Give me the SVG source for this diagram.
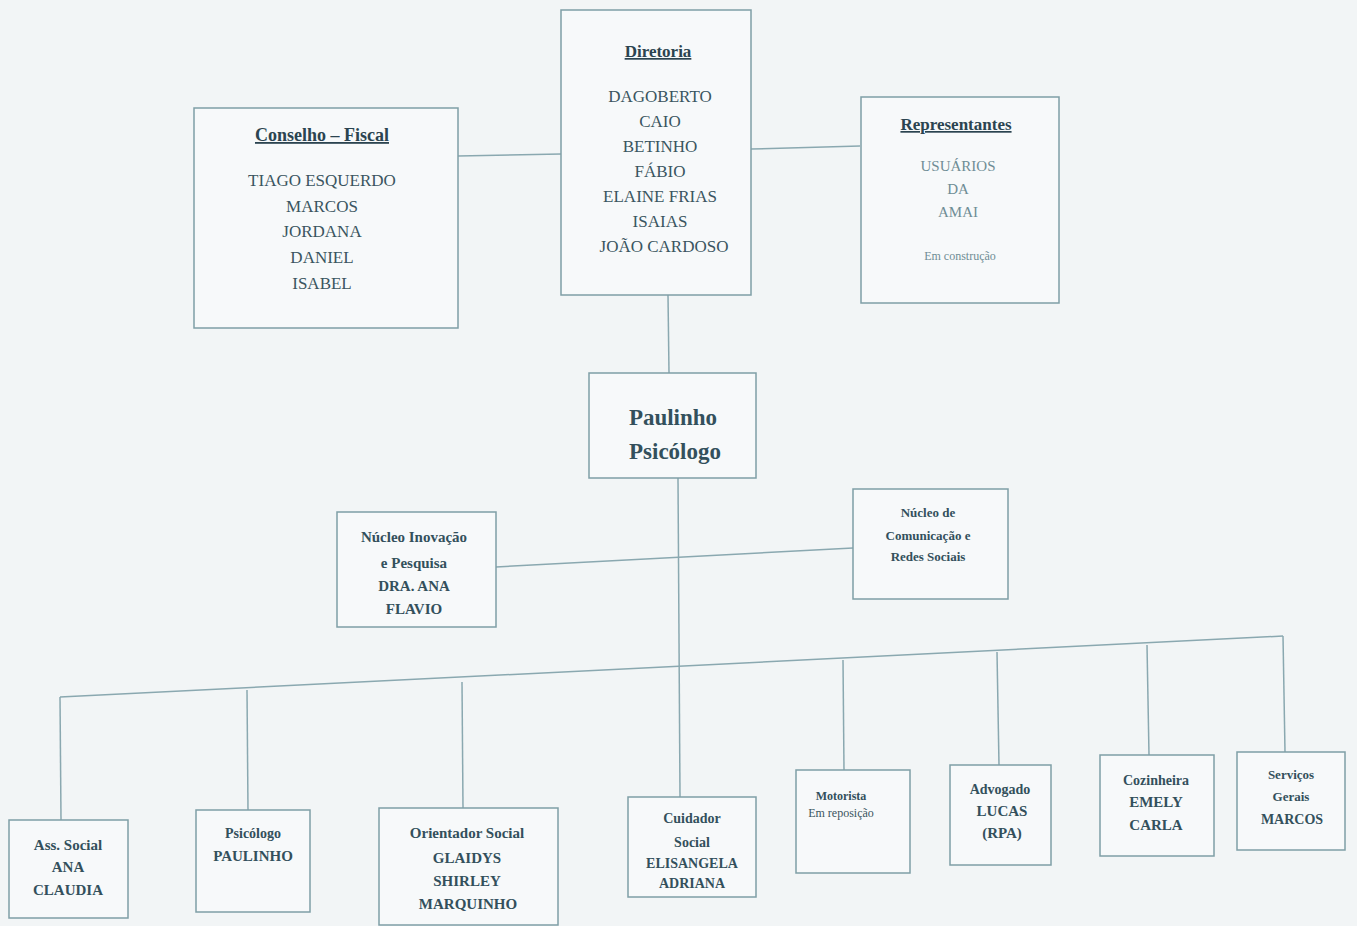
<svg xmlns="http://www.w3.org/2000/svg" width="1357" height="926" viewBox="0 0 1357 926">
<style>
.bg{fill:#f2f5f6}
.box{fill:#f7f9fa;stroke:#7f9ea6;stroke-width:1.5}
.ln{stroke:#8aa8b0;stroke-width:1.5;fill:none}
text{font-family:"Liberation Serif","DejaVu Serif",serif;text-anchor:middle;fill:#3a5560}
.h{font-weight:bold;fill:#2b4450;text-decoration:underline}
.b{font-weight:bold;fill:#33505c}
.n{font-size:17px}
.lt{fill:#6f8d95}
</style>
<rect class="bg" x="0" y="0" width="1357" height="926"/>
<g id="connectors">
<path class="ln" d="M458 156 L561 154"/>
<path class="ln" d="M751 149 L860 146"/>
<path class="ln" d="M668 295 L669 373"/>
<path class="ln" d="M678 478 L680 797"/>
<path class="ln" d="M496 567 L853 548"/>
<path class="ln" d="M60 697 L1283 636"/>
<path class="ln" d="M60 697 L61 820"/>
<path class="ln" d="M247 690 L248 810"/>
<path class="ln" d="M462 682 L463 808"/>
<path class="ln" d="M843 660 L844 770"/>
<path class="ln" d="M997 652 L999 765"/>
<path class="ln" d="M1147 645 L1149 755"/>
<path class="ln" d="M1283 636 L1285 752"/>
</g>
<g id="conselho">
<rect class="box" x="194" y="108" width="264" height="220"/>
<text class="h" x="322" y="141" font-size="18">Conselho – Fiscal</text>
<text class="n" x="322" y="186">TIAGO ESQUERDO</text>
<text class="n" x="322" y="212">MARCOS</text>
<text class="n" x="322" y="237">JORDANA</text>
<text class="n" x="322" y="263">DANIEL</text>
<text class="n" x="322" y="289">ISABEL</text>
</g>
<g id="diretoria">
<rect class="box" x="561" y="10" width="190" height="285"/>
<text class="h" x="658" y="57" font-size="17">Diretoria</text>
<text class="n" x="660" y="102">DAGOBERTO</text>
<text class="n" x="660" y="127">CAIO</text>
<text class="n" x="660" y="152">BETINHO</text>
<text class="n" x="660" y="177">FÁBIO</text>
<text class="n" x="660" y="202">ELAINE FRIAS</text>
<text class="n" x="660" y="227">ISAIAS</text>
<text class="n" x="664" y="252">JOÃO CARDOSO</text>
</g>
<g id="representantes">
<rect class="box" x="861" y="97" width="198" height="206"/>
<text class="h" x="956" y="130" font-size="17">Representantes</text>
<text class="lt" x="958" y="171" font-size="15">USUÁRIOS</text>
<text class="lt" x="958" y="194" font-size="15">DA</text>
<text class="lt" x="958" y="217" font-size="15">AMAI</text>
<text class="lt" x="960" y="260" font-size="12">Em construção</text>
</g>
<g id="paulinho">
<rect class="box" x="589" y="373" width="167" height="105"/>
<text class="b" x="673" y="425" font-size="23">Paulinho</text>
<text class="b" x="675" y="459" font-size="23">Psicólogo</text>
</g>
<g id="nucleo-inovacao">
<rect class="box" x="337" y="512" width="159" height="115"/>
<text class="b" x="414" y="542" font-size="15">Núcleo Inovação</text>
<text class="b" x="414" y="568" font-size="15">e Pesquisa</text>
<text class="b" x="414" y="591" font-size="15">DRA. ANA</text>
<text class="b" x="414" y="614" font-size="15">FLAVIO</text>
</g>
<g id="nucleo-comunicacao">
<rect class="box" x="853" y="489" width="155" height="110"/>
<text class="b" x="928" y="517" font-size="13">Núcleo de</text>
<text class="b" x="928" y="540" font-size="13">Comunicação e</text>
<text class="b" x="928" y="561" font-size="13">Redes Sociais</text>
</g>
<g id="ass-social">
<rect class="box" x="9" y="820" width="119" height="98"/>
<text class="b" x="68" y="850" font-size="15">Ass. Social</text>
<text class="b" x="68" y="872" font-size="15">ANA</text>
<text class="b" x="68" y="895" font-size="15">CLAUDIA</text>
</g>
<g id="psicologo">
<rect class="box" x="196" y="810" width="114" height="102"/>
<text class="b" x="253" y="838" font-size="14">Psicólogo</text>
<text class="b" x="253" y="861" font-size="15">PAULINHO</text>
</g>
<g id="orientador">
<rect class="box" x="379" y="808" width="179" height="117"/>
<text class="b" x="467" y="838" font-size="15">Orientador Social</text>
<text class="b" x="467" y="863" font-size="15">GLAIDYS</text>
<text class="b" x="467" y="886" font-size="15">SHIRLEY</text>
<text class="b" x="468" y="909" font-size="15">MARQUINHO</text>
</g>
<g id="cuidador">
<rect class="box" x="628" y="797" width="128" height="100"/>
<text class="b" x="692" y="823" font-size="14">Cuidador</text>
<text class="b" x="692" y="847" font-size="14">Social</text>
<text class="b" x="692" y="868" font-size="14">ELISANGELA</text>
<text class="b" x="692" y="888" font-size="14">ADRIANA</text>
</g>
<g id="motorista">
<rect class="box" x="796" y="770" width="114" height="103"/>
<text class="b" x="841" y="800" font-size="12">Motorista</text>
<text x="841" y="817" font-size="12">Em reposição</text>
</g>
<g id="advogado">
<rect class="box" x="950" y="765" width="101" height="100"/>
<text class="b" x="1000" y="794" font-size="14">Advogado</text>
<text class="b" x="1002" y="816" font-size="15">LUCAS</text>
<text class="b" x="1002" y="838" font-size="15">(RPA)</text>
</g>
<g id="cozinheira">
<rect class="box" x="1100" y="755" width="114" height="101"/>
<text class="b" x="1156" y="785" font-size="14">Cozinheira</text>
<text class="b" x="1156" y="807" font-size="15">EMELY</text>
<text class="b" x="1156" y="830" font-size="15">CARLA</text>
</g>
<g id="servicos">
<rect class="box" x="1237" y="752" width="108" height="98"/>
<text class="b" x="1291" y="779" font-size="13">Serviços</text>
<text class="b" x="1291" y="801" font-size="13">Gerais</text>
<text class="b" x="1292" y="824" font-size="14">MARCOS</text>
</g>
</svg>
